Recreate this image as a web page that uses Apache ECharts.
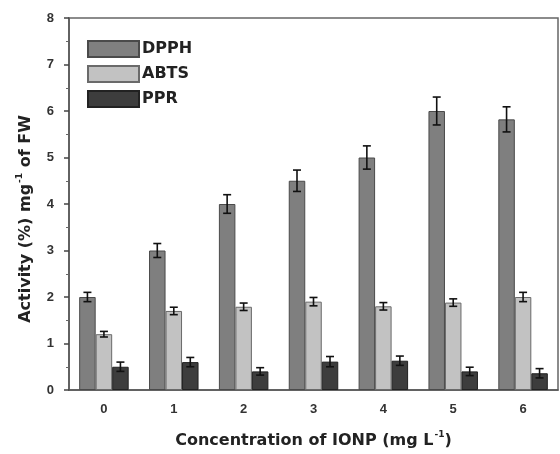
<!DOCTYPE html>
<html><head><meta charset="utf-8">
<script src="https://cdn.jsdelivr.net/npm/echarts@6/dist/echarts.min.js"></script>
<style>html,body{margin:0;padding:0;background:#fff}#c{width:560px;height:454px}</style>
</head><body><div id="c"></div>
<script>
const categories = ['0','1','2','3','4','5','6'];
const seriesNames = ['DPPH','ABTS','PPR'];
const dpph = [2.0, 3.0, 4.0, 4.5, 5.0, 6.0, 5.82];
const dpphErr = [0.1, 0.15, 0.2, 0.23, 0.25, 0.3, 0.27];
const abts = [1.2, 1.7, 1.79, 1.9, 1.8, 1.88, 2.0];
const abtsErr = [0.06, 0.08, 0.08, 0.09, 0.08, 0.08, 0.1];
const ppr = [0.5, 0.6, 0.4, 0.61, 0.63, 0.4, 0.36];
const pprErr = [0.1, 0.1, 0.08, 0.11, 0.1, 0.09, 0.1];
const yTicks = [0,1,2,3,4,5,6,7,8];

const colors = ['#7f7f7f','#c2c2c2','#3d3d3d'];
const borders = ['#4a4a4a','#6a6a6a','#222222'];
const BW = 16.5;
const offsets = [-BW, 0, BW];
const values = [dpph, abts, ppr];
const errs = [dpphErr, abtsErr, pprErr];

const chart = echarts.init(document.getElementById('c'));
const font = '"Liberation Sans", Arial, sans-serif';
const tfont = '"DejaVu Sans", sans-serif';

function errSeries(k){
  return {
    type:'custom', name: seriesNames[k]+'_err', z:10,
    data: values[k].map((v,i)=>[i, v, errs[k][i]]),
    renderItem: function(params, api){
      const i = api.value(0), v = api.value(1), e = api.value(2);
      const top = api.coord([i, v+e]);
      const bot = api.coord([i, v-e]);
      const x = top[0] + offsets[k];
      const cap = 4;
      const st = {stroke:'#111', lineWidth:1.6};
      return {type:'group', children:[
        {type:'line', shape:{x1:x,y1:top[1],x2:x,y2:bot[1]}, style:st},
        {type:'line', shape:{x1:x-cap,y1:top[1],x2:x+cap,y2:top[1]}, style:st},
        {type:'line', shape:{x1:x-cap,y1:bot[1],x2:x+cap,y2:bot[1]}, style:st}
      ]};
    },
    silent:true, tooltip:{show:false}
  };
}

const barSeries = values.map((arr,k)=>({
  type:'bar', name: seriesNames[k], data: arr, barWidth: BW, barGap: '0%',
  itemStyle:{color: colors[k], borderColor: borders[k], borderWidth: 1},
  emphasis:{disabled:true}
}));

const rich = {
  b:{fontFamily:tfont, fontWeight:'bold', fontSize:16, color:'#222'},
  s:{fontFamily:tfont, fontWeight:'bold', fontSize:9, color:'#222', padding:[0,0,12,1]}
};

chart.setOption({
  animation:false,
  grid:{left:69, top:18, right:2, bottom:64, show:true, borderColor:'#666', borderWidth:1.5, backgroundColor:'transparent'},
  legend:{
    data: seriesNames, orient:'vertical', left:82, top:35,
    itemWidth:51, itemHeight:16, itemGap:7,
    textStyle:{fontFamily:tfont, fontWeight:'bold', fontSize:16, color:'#222', padding:[0,0,0,-2]},
    icon:'rect'
  },
  xAxis:[{
    type:'category', data: categories,
    axisLine:{lineStyle:{color:'#555', width:1.5}},
    axisTick:{alignWithLabel:true, length:5, lineStyle:{color:'#444', width:1.5}},
    axisLabel:{fontFamily:font, fontSize:13, fontWeight:'bold', color:'#333', margin:13},
    name:'{b|Concentration of IONP (mg L}{s|-1}{b|)}',
    nameLocation:'middle', nameGap:40,
    nameTextStyle:{rich: rich}
  },{
    type:'category', data: categories, position:'bottom',
    axisLine:{show:false}, axisLabel:{show:false},
    axisTick:{length:3, lineStyle:{color:'#777', width:1}}
  }],
  yAxis:{
    type:'value', min:0, max:8, interval:1,
    axisLine:{show:true, lineStyle:{color:'#555', width:1.5}},
    axisTick:{show:true, length:5, lineStyle:{color:'#444', width:1.5}},
    minorTick:{show:true, splitNumber:2, length:3, lineStyle:{color:'#666'}},
    splitLine:{show:false},
    axisLabel:{fontFamily:font, fontSize:13, fontWeight:'bold', color:'#333', margin:15,
      formatter: v => yTicks.includes(v) ? String(v) : ''},
    name:'{b|Activity (%) mg}{s|-1}{b| of FW}',
    nameLocation:'middle', nameGap:33,
    nameTextStyle:{rich: rich, padding:[0,30,0,0]}
  },
  series: barSeries.concat([errSeries(0), errSeries(1), errSeries(2)])
});
</script></body></html>
